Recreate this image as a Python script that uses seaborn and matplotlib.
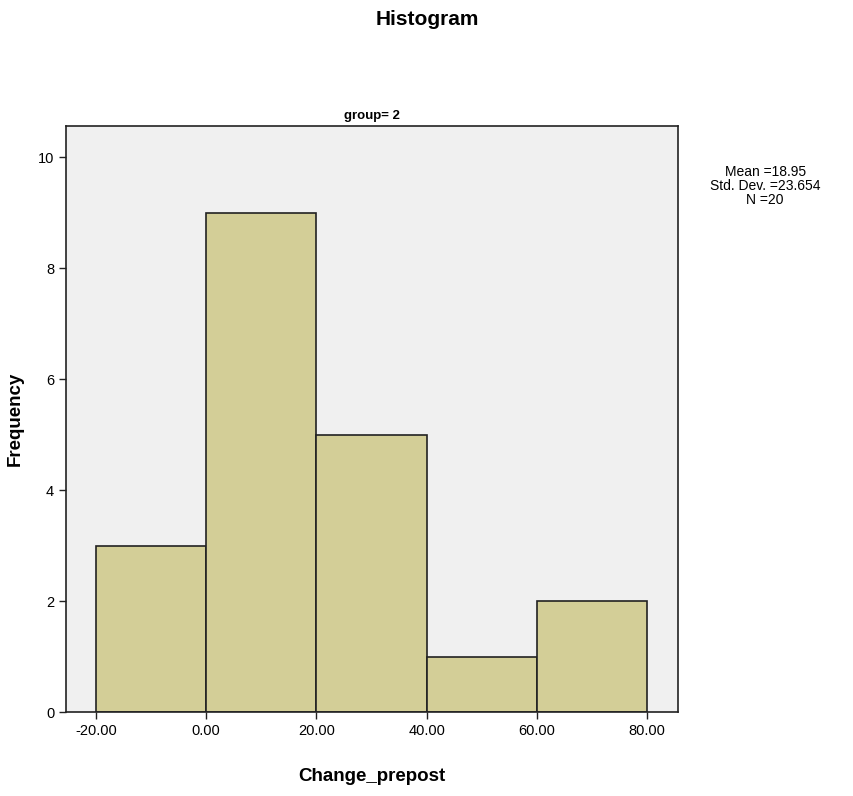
import numpy as np
import pandas as pd
import seaborn as sns
import matplotlib.pyplot as plt

# histogram data
bin_edges = [-20, 0, 20, 40, 60, 80]
counts = [3, 9, 5, 1, 2]
x_ticks = [-20, 0, 20, 40, 60, 80]
x_tick_labels = ['-20.00', '0.00', '20.00', '40.00', '60.00', '80.00']
y_ticks = [0, 2, 4, 6, 8, 10]
stats_text = 'Mean =18.95\nStd. Dev. =23.654\nN =20'

centers = [(a + b) / 2 for a, b in zip(bin_edges[:-1], bin_edges[1:])]
df = pd.DataFrame({'Change_prepost': centers, 'count': counts})

sns.set_style('white')
plt.rcParams['font.family'] = ['Liberation Sans', 'DejaVu Sans']
plt.rcParams['text.color'] = 'black'

fig = plt.figure(figsize=(8.54, 7.96), dpi=100)
ax = fig.add_axes([0.0773, 0.1055, 0.7166, 0.7362])
ax.set_facecolor('#f0f0f0')

sns.histplot(data=df, x='Change_prepost', weights='count', bins=bin_edges,
             color='#d3ce97', edgecolor='#222222', linewidth=1.2, alpha=1, ax=ax)

ax.set_xlim(-25.4, 85.6)
ax.set_ylim(0, 10.56)
ax.set_xticks(x_ticks)
ax.set_xticklabels(x_tick_labels)
ax.set_yticks(y_ticks)
ax.tick_params(axis='both', direction='out', length=5, width=1, labelsize=10.5,
               color='#222222', labelcolor='black', bottom=True, left=True)
for s in ax.spines.values():
    s.set_color('#222222')
    s.set_linewidth(1.2)

ax.set_xlabel('Change_prepost', fontsize=13.5, fontweight='bold', labelpad=22, color='black')
ax.set_ylabel('Frequency', fontsize=13.5, fontweight='bold', labelpad=10, color='black')
ax.set_title('group= 2', fontsize=9.5, fontweight='bold', pad=5, color='black')

fig.text(0.5, 0.975, 'Histogram', ha='center', va='center', fontsize=15, fontweight='bold')
fig.text(0.896, 0.793, stats_text, ha='center', va='top', fontsize=10, linespacing=1.0)

plt.savefig('out.png', dpi=100)
